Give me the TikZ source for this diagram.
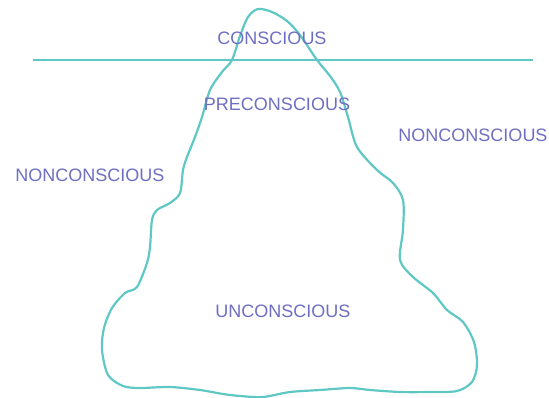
\documentclass[tikz,border=0pt]{standalone}
\usepackage{fontspec}
\setmainfont{Liberation Sans}
\definecolor{berg}{RGB}{95,200,196}
\definecolor{lbl}{RGB}{110,110,195}
\begin{document}
\begin{tikzpicture}[x=1pt,y=-1pt,
  lab/.style={text=lbl,font=\fontsize{18}{20}\selectfont,inner sep=0pt,anchor=center},
  bergline/.style={draw=berg,line width=2.2pt,line join=round}]
\useasboundingbox (0,0) rectangle (549,398);
\draw[bergline] plot[smooth cycle,tension=0.5] coordinates {
 (258,9) (272,12) (287,21) (300,35) (317,60) (330,76) (340,92) (348,117) (357,147)
 (377,170) (393,183) (403,200) (403,230) (400,260) (413,277) (433,293) (447,310)
 (463,322) (474,342) (477,365) (472,382) (457,391) (430,392) (400,392) (370,390)
 (350,388) (320,390) (290,392) (263,397) (240,396) (223,394) (200,390) (170,387)
 (140,388) (123,386) (108,375) (102,350) (104,328) (112,308) (125,293) (137,287)
 (147,263) (150,247) (152,220) (157,210) (170,203) (180,193) (183,170) (187,157)
 (195,137) (202,117) (210,90) (222,72) (232,60) (240,36) (248,17)};
\coordinate (hl) at (33,60);
\coordinate (hr) at (533,60);
\draw[draw=berg,line width=2.2pt] (hl) -- (hr);
\node[lab] (con) at (272,38) {CONSCIOUS};
\node[lab] (pre) at (277,104) {PRECONSCIOUS};
\node[lab] (nonl) at (90,175) {NONCONSCIOUS};
\node[lab] (nonr) at (473,135) {NONCONSCIOUS};
\node[lab] (unc) at (283,311) {UNCONSCIOUS};
\end{tikzpicture}
\end{document}
